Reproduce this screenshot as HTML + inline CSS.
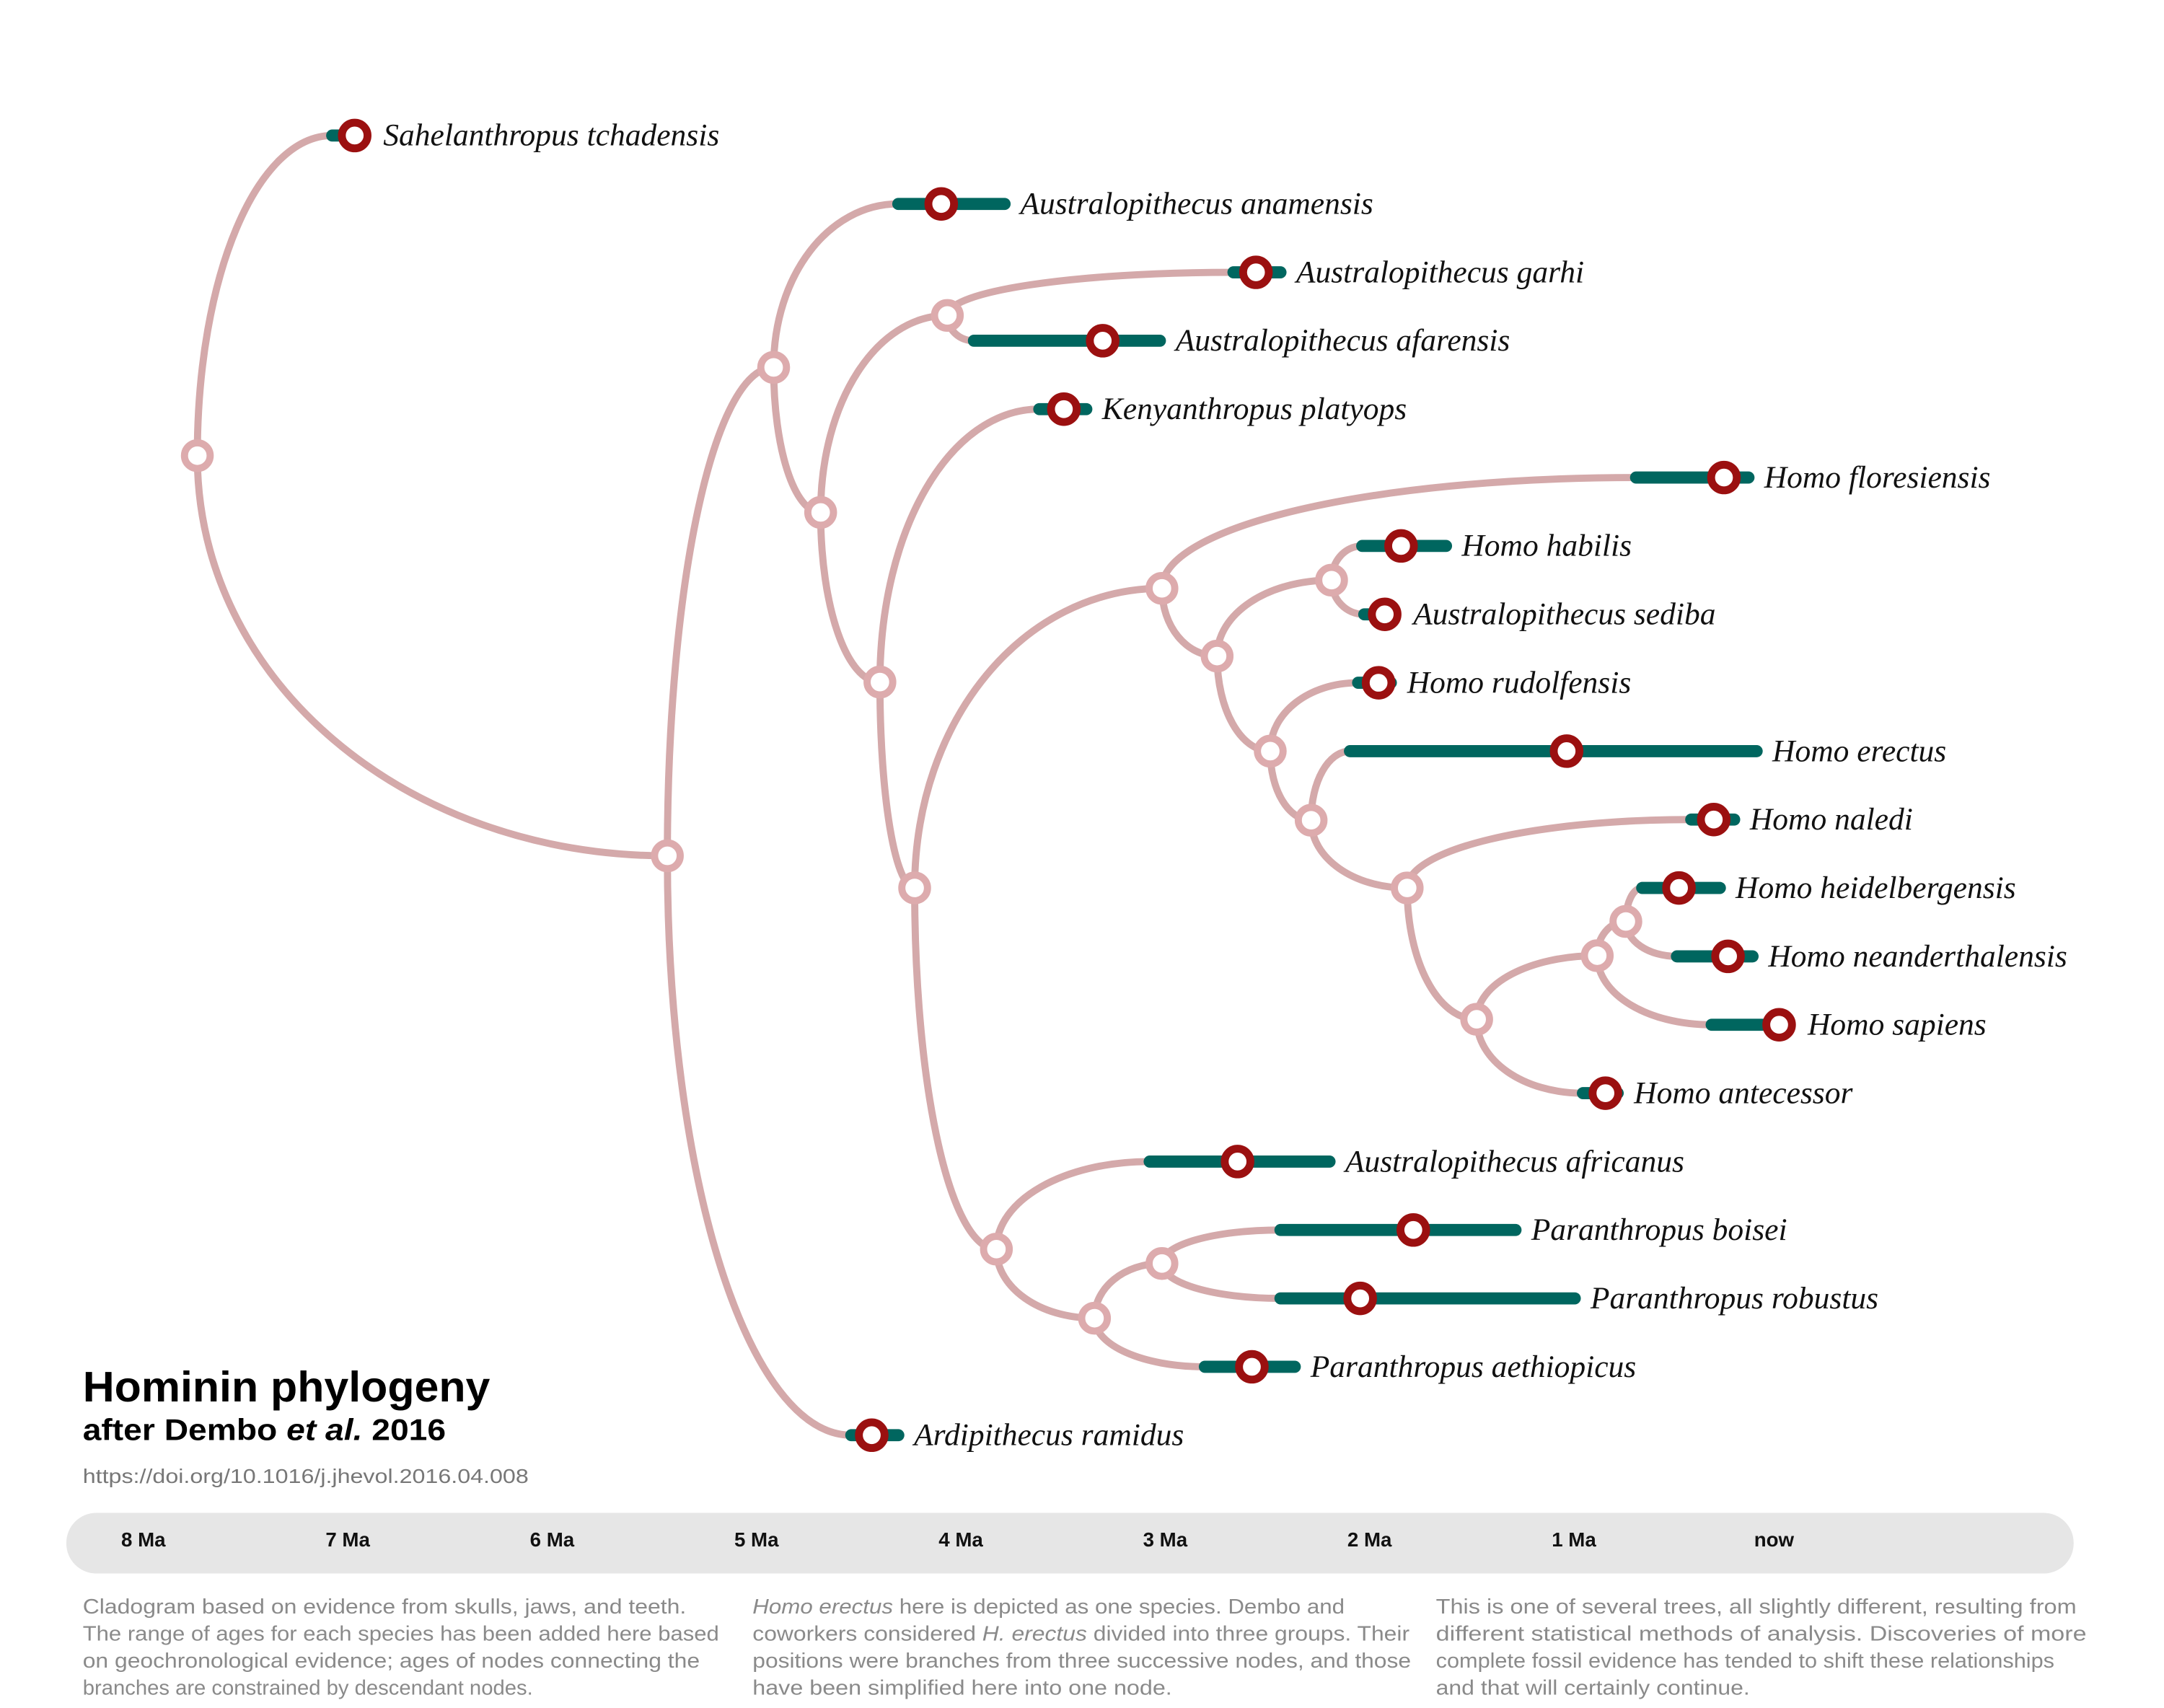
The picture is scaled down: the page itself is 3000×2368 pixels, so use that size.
<!DOCTYPE html>
<html><head><meta charset="utf-8"><style>
html,body{margin:0;padding:0;background:#fff;}
svg{display:block;}
.lab{font-family:"Liberation Serif",serif;font-style:italic;font-size:44px;fill:#111;}
.tick{font-family:"Liberation Sans",sans-serif;font-weight:bold;font-size:28px;fill:#111;}
.note{font-family:"Liberation Sans",sans-serif;font-size:29px;fill:#8a8a8a;}
</style></head><body>
<svg id="chart" width="3000" height="2368" viewBox="0 0 3000 2368">
<g transform="scale(0.9889)">
<g id="edges"></g>
<g id="bars"></g>
<g id="dots"></g>
<g id="labels"></g>
<text x="116" y="1965" font-family="Liberation Sans, sans-serif" font-weight="bold" font-size="60" textLength="571" lengthAdjust="spacingAndGlyphs" fill="#000">Hominin phylogeny</text>
<text x="116" y="2019" font-family="Liberation Sans, sans-serif" font-weight="bold" font-size="42" textLength="509" lengthAdjust="spacingAndGlyphs" fill="#000">after Dembo <tspan font-style="italic">et al.</tspan> 2016</text>
<text x="116" y="2079" font-family="Liberation Sans, sans-serif" font-size="28" textLength="625" lengthAdjust="spacingAndGlyphs" fill="#777">https://doi.org/10.1016/j.jhevol.2016.04.008</text>
<rect x="93" y="2121" width="2814" height="85" rx="42" fill="#e6e6e6"/>
<g id="ticks"></g>
<g>
<text class="note" x="116" y="2262" textLength="846" lengthAdjust="spacingAndGlyphs">Cladogram based on evidence from skulls, jaws, and teeth.</text>
<text class="note" x="116" y="2300" textLength="892" lengthAdjust="spacingAndGlyphs">The range of ages for each species has been added here based</text>
<text class="note" x="116" y="2338" textLength="865" lengthAdjust="spacingAndGlyphs">on geochronological evidence; ages of nodes connecting the</text>
<text class="note" x="116" y="2376" textLength="631" lengthAdjust="spacingAndGlyphs">branches are constrained by descendant nodes.</text>
</g>
<g>
<text class="note" x="1055" y="2262" textLength="830" lengthAdjust="spacingAndGlyphs"><tspan font-style="italic">Homo erectus</tspan> here is depicted as one species. Dembo and</text>
<text class="note" x="1055" y="2300" textLength="921" lengthAdjust="spacingAndGlyphs">coworkers considered <tspan font-style="italic">H. erectus</tspan> divided into three groups. Their</text>
<text class="note" x="1055" y="2338" textLength="923" lengthAdjust="spacingAndGlyphs">positions were branches from three successive nodes, and those</text>
<text class="note" x="1055" y="2376" textLength="588" lengthAdjust="spacingAndGlyphs">have been simplified here into one node.</text>
</g>
<g>
<text class="note" x="2013" y="2262" textLength="898" lengthAdjust="spacingAndGlyphs">This is one of several trees, all slightly different, resulting from</text>
<text class="note" x="2013" y="2300" textLength="912" lengthAdjust="spacingAndGlyphs">different statistical methods of analysis. Discoveries of more</text>
<text class="note" x="2013" y="2338" textLength="867" lengthAdjust="spacingAndGlyphs">complete fossil evidence has tended to shift these relationships</text>
<text class="note" x="2013" y="2376" textLength="440" lengthAdjust="spacingAndGlyphs">and that will certainly continue.</text>
</g>
</g>
</svg>
<script>
// ---- data (ages in Ma, rows are vertical slot indices) ----
const species = ["Sahelanthropus tchadensis","Australopithecus anamensis","Australopithecus garhi","Australopithecus afarensis","Kenyanthropus platyops","Homo floresiensis","Homo habilis","Australopithecus sediba","Homo rudolfensis","Homo erectus","Homo naledi","Homo heidelbergensis","Homo neanderthalensis","Homo sapiens","Homo antecessor","Australopithecus africanus","Paranthropus boisei","Paranthropus robustus","Paranthropus aethiopicus","Ardipithecus ramidus"];
const speciesAge = [6.98,4.11,2.57,3.32,3.51,0.28,1.86,1.94,1.97,1.05,0.33,0.50,0.26,0.01,0.86,2.66,1.80,2.06,2.59,4.45];
const rangeOld   = [7.09,4.32,2.68,3.95,3.63,0.71,2.05,2.04,2.07,2.11,0.44,0.68,0.51,0.34,0.97,3.09,2.45,2.45,2.82,4.55];
const rangeYoung = [6.98,3.80,2.45,3.04,3.40,0.16,1.64,1.89,1.91,0.12,0.23,0.30,0.14,0.00,0.80,2.21,1.30,1.01,2.38,4.32];
const nodeNames = ["A","B","C","D","E","F","G","H","I","J","K","L","M","N","O","Q","P","R","S"];
const nodeAge = [7.75,5.45,4.93,4.70,4.08,4.41,4.24,3.03,2.76,2.20,2.50,2.30,1.83,1.49,0.90,0.76,3.84,3.36,3.03];
const nodeRow = [4.68,10.53,3.39,5.51,2.63,7.99,11.0,6.62,7.61,6.50,9.0,10.01,11.0,12.92,11.99,11.49,16.28,17.29,16.49];
// edges: [parent, child]; child is a node name or a species index
const edges = [["A",0],["A","B"],["B","C"],["B",19],["C",1],["C","D"],["D","E"],["D","F"],["E",2],["E",3],["F",4],["F","G"],["G","H"],["G","P"],["H",5],["H","I"],["I","J"],["I","K"],["J",6],["J",7],["K",8],["K","L"],["L",9],["L","M"],["M",10],["M","N"],["N","O"],["N",14],["O","Q"],["O",13],["Q",11],["Q",12],["P",15],["P","R"],["R","S"],["R",18],["S",16],["S",17]];
const tickValues = [8,7,6,5,4,3,2,1,0];
const tickLabels = ["8 Ma","7 Ma","6 Ma","5 Ma","4 Ma","3 Ma","2 Ma","1 Ma","now"];

// ---- scales ----
const X0 = 2497, K = 286.5, Y0 = 190, DY = 95.9;
const x = t => X0 - K * t;
const y = r => Y0 + DY * r;
const NS = "http://www.w3.org/2000/svg";
function mk(tag, attrs, parent){const e=document.createElementNS(NS,tag);for(const k in attrs)e.setAttribute(k,attrs[k]);parent.appendChild(e);return e;}
const gE=document.getElementById('edges'),gB=document.getElementById('bars'),gD=document.getElementById('dots'),gL=document.getElementById('labels'),gT=document.getElementById('ticks');
function nodePos(n){const i=nodeNames.indexOf(n);return [x(nodeAge[i]),y(nodeRow[i])];}

edges.forEach(([p,c])=>{
  const [px,py]=nodePos(p);
  let cx,cy;
  if(typeof c==="string"){[cx,cy]=nodePos(c);} else {cx=x(rangeOld[c]);cy=y(c);}
  const k=0.56;
  const path=mk('path',{d:`M${px},${py} C${px},${py+k*(cy-py)} ${cx-k*(cx-px)},${cy} ${cx},${cy}`,fill:'none',stroke:'#d4a9aa','stroke-width':10},gE);
  
  
});
species.forEach((s,i)=>{
  const bar=mk('line',{x1:x(rangeOld[i]),x2:x(rangeYoung[i]),y1:y(i),y2:y(i),stroke:'#00665f','stroke-width':17,'stroke-linecap':'round'},gB);
  
  
  const c=mk('circle',{cx:x(speciesAge[i]),cy:y(i),r:18,fill:'#fff',stroke:'#9b1010','stroke-width':11},gD);
  
  
  const lx=Math.max(x(speciesAge[i])+40,x(rangeYoung[i])+22);
  const t=mk('text',{x:lx,y:y(i)+14,class:'lab'},gL);
  t.textContent=s;
  
  
});
nodeNames.forEach((n,i)=>{
  const c=mk('circle',{cx:x(nodeAge[i]),cy:y(nodeRow[i]),r:18,fill:'#fff',stroke:'#ddabad','stroke-width':10},gD);
  
  
});
tickValues.forEach((v,i)=>{
  const t=mk('text',{x:x(v)-(v===0?10:4),y:2168,'text-anchor':'middle',class:'tick'},gT);
  t.textContent=tickLabels[i];
  
  
});
</script>
</body></html>
